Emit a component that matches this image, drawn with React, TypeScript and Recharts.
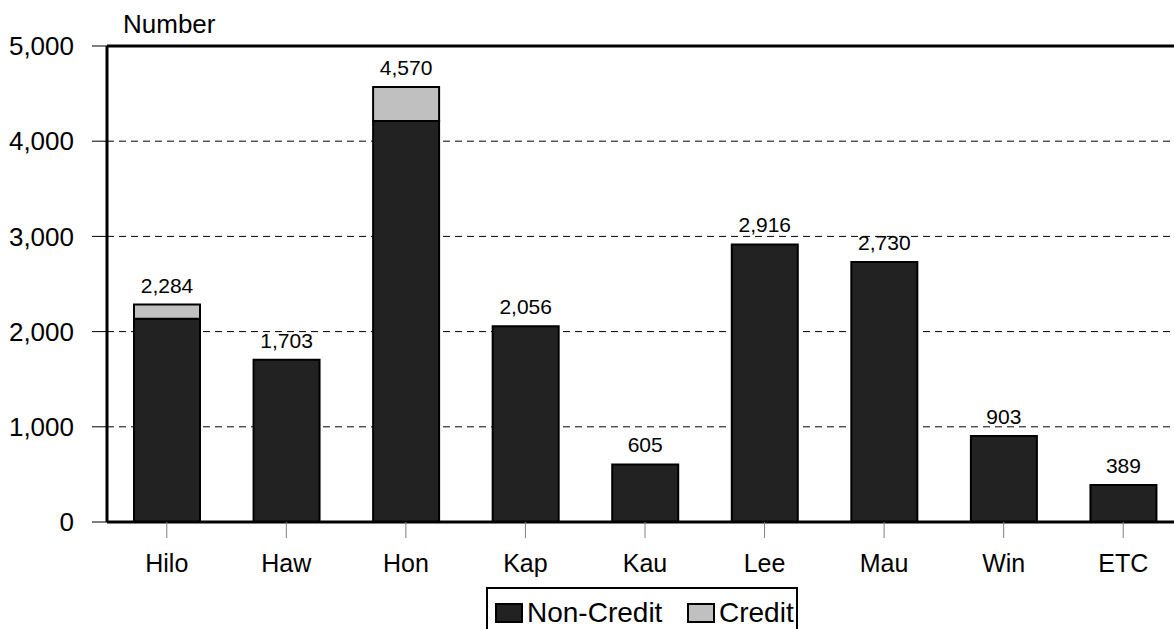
import React from "react";
import {
  BarChart, Bar, XAxis, YAxis, CartesianGrid, ReferenceLine, LabelList,
} from "recharts";

const campuses = ["Hilo", "Haw", "Hon", "Kap", "Kau", "Lee", "Mau", "Win", "ETC"];
const nonCredit = [2134, 1703, 4212, 2056, 605, 2916, 2730, 903, 389];
const credit = [150, 0, 358, 0, 0, 0, 0, 0, 0];
const totals = [2284, 1703, 4570, 2056, 605, 2916, 2730, 903, 389];
const yTicks = [0, 1000, 2000, 3000, 4000, 5000];

const data = campuses.map((name, i) => ({
  name,
  nonCredit: nonCredit[i],
  credit: credit[i],
  total: totals[i],
}));

const FONT = "Arial, 'Liberation Sans', sans-serif";
const fmt = (v: number) => v.toLocaleString("en-US");

const legendItems = [
  { label: "Non-Credit", color: "#222222", left: 7 },
  { label: "Credit", color: "#c0c0c0", left: 199 },
];

// total label sits above the whole stack, so work out the credit segment height
// from the non-credit bar's own pixel scale
const TotalLabel = (props: any) => {
  const { x, y, width, height, index } = props;
  const d = data[index];
  const pxPerUnit = height / d.nonCredit;
  const top = y - d.credit * pxPerUnit;
  return (
    <text
      x={x + width / 2}
      y={top - 12}
      textAnchor="middle"
      fill="#000"
      fontSize={21}
      fontFamily={FONT}
    >
      {fmt(d.total)}
    </text>
  );
};

export default function App() {
  return (
    <div
      style={{
        position: "absolute", left: 0, top: 0, width: 1174, height: 629,
        overflow: "hidden", background: "#fff", fontFamily: FONT,
      }}
    >
      {/* axis title */}
      <div style={{ position: "absolute", left: 123, top: 11, fontSize: 26, lineHeight: "26px", color: "#000" }}>
        Number
      </div>

      <BarChart
        width={1183}
        height={629}
        data={data}
        margin={{ top: 46, right: 0, left: 0, bottom: 0 }}
        style={{ position: "absolute", left: 0, top: 0 }}
      >
        <CartesianGrid vertical={false} stroke="#000" strokeDasharray="7 5" />
        <XAxis
          dataKey="name"
          height={107}
          axisLine={{ stroke: "#000", strokeWidth: 3 }}
          tickLine={{ stroke: "#808080" }}
          tickSize={16}
          tickMargin={16}
          tick={{ fill: "#000", fontSize: 25, fontFamily: FONT }}
        />
        <YAxis
          width={107}
          domain={[0, 5000]}
          ticks={yTicks}
          interval={0}
          tickFormatter={fmt}
          axisLine={{ stroke: "#000", strokeWidth: 3 }}
          tickLine={{ stroke: "#000" }}
          tickSize={15}
          tickMargin={18}
          tick={{ fill: "#000", fontSize: 26, fontFamily: FONT }}
        />
        <ReferenceLine y={5000} stroke="#000" strokeWidth={3} />
        <Bar dataKey="nonCredit" stackId="a" barSize={66} fill="#222222" stroke="#000" strokeWidth={2} isAnimationActive={false}>
          <LabelList dataKey="total" content={TotalLabel} />
        </Bar>
        <Bar dataKey="credit" stackId="a" barSize={66} fill="#c0c0c0" stroke="#000" strokeWidth={2} isAnimationActive={false} />
      </BarChart>

      {/* legend */}
      <div
        style={{
          position: "absolute", left: 486, top: 587, width: 312, height: 60,
          border: "2px solid #000", background: "#fff", boxSizing: "border-box",
        }}
      >
        {legendItems.map((it) => (
          <div
            key={it.label}
            style={{ position: "absolute", left: it.left, top: 10, display: "flex", alignItems: "center" }}
          >
            <div style={{ width: 28, height: 20, background: it.color, border: "2px solid #000", boxSizing: "border-box" }} />
            <span style={{ fontSize: 28, lineHeight: "28px", marginLeft: 4, color: "#000" }}>{it.label}</span>
          </div>
        ))}
      </div>
    </div>
  );
}
